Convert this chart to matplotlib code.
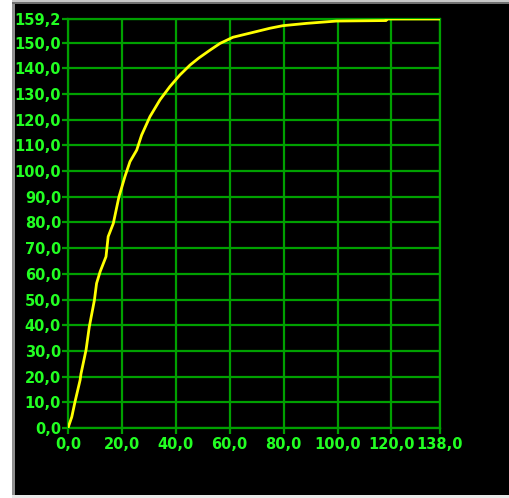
import matplotlib
matplotlib.use("Agg")
import matplotlib.pyplot as plt
from matplotlib.patches import Rectangle

# curve
x_vals = [0.0, 1.4, 2.6, 4.5, 4.8, 6.7, 7.9, 9.8, 10.6, 11.9, 14.1, 14.9, 16.8, 18.9,
          21.1, 23.0, 25.5, 27.3, 30.4, 34.1, 37.8, 41.5, 45.3, 48.5, 52.7, 56.4,
          61.2, 67.5, 74.9, 79.7, 88.5, 99.6, 118.0, 118.2, 138.0]
y_vals = [0.0, 4.3, 10.2, 18.7, 21.0, 30.4, 39.4, 49.8, 56.3, 60.8, 66.7, 74.5, 79.6, 90.0,
          97.8, 103.7, 108.2, 114.0, 121.2, 127.7, 132.9, 137.4, 141.3, 144.0, 147.1, 149.7,
          152.1, 153.7, 155.6, 156.6, 157.5, 158.4, 158.6, 159.2, 159.2]

x_ticks = [0, 20, 40, 60, 80, 100, 120, 138]
x_labels = ["0,0", "20,0", "40,0", "60,0", "80,0", "100,0", "120,0", "138,0"]
y_ticks = [0, 10, 20, 30, 40, 50, 60, 70, 80, 90, 100, 110, 120, 130, 140, 150, 159.2]
y_labels = ["0,0", "10,0", "20,0", "30,0", "40,0", "50,0", "60,0", "70,0", "80,0",
            "90,0", "100,0", "110,0", "120,0", "130,0", "140,0", "150,0", "159,2"]

grid_green = "#00a000"
text_green = "#22ff22"

fig = plt.figure(figsize=(5.09, 4.98), dpi=100, facecolor="black")

# window frame: white strip on the left, grey edges
fig.patches.append(Rectangle((0, 0), 12 / 509, 1, transform=fig.transFigure,
                             facecolor="white", edgecolor="none", zorder=0))
fig.patches.append(Rectangle((12 / 509, 0), 3 / 509, 1, transform=fig.transFigure,
                             facecolor="#909090", edgecolor="none", zorder=0))
fig.patches.append(Rectangle((12 / 509, 1 - 2 / 498), 1, 2 / 498, transform=fig.transFigure,
                             facecolor="#c8c8c8", edgecolor="none", zorder=0))
fig.patches.append(Rectangle((12 / 509, 1 - 4 / 498), 1, 2 / 498, transform=fig.transFigure,
                             facecolor="#707070", edgecolor="none", zorder=0))
fig.patches.append(Rectangle((12 / 509, 0), 1, 3 / 498, transform=fig.transFigure,
                             facecolor="#e8e8e8", edgecolor="none", zorder=0))

ax = fig.add_axes([68 / 509, 70 / 498, 372 / 509, 409 / 498])
ax.set_facecolor("black")

ax.plot(x_vals, y_vals, color="#ffff00", linewidth=2.0, zorder=3, solid_joinstyle="round")

ax.set_xlim(0, 138)
ax.set_ylim(0, 159.2)
ax.set_xticks(x_ticks)
ax.set_xticklabels(x_labels)
ax.set_yticks(y_ticks)
ax.set_yticklabels(y_labels)

ax.grid(True, color=grid_green, linewidth=1.6)
ax.set_axisbelow(True)
for s in ax.spines.values():
    s.set_color(grid_green)
    s.set_linewidth(1.6)

ax.tick_params(axis="both", colors=grid_green, length=4.5, width=1.6, direction="out")
ax.tick_params(axis="x", pad=2)
ax.tick_params(axis="y", pad=0.5)
for lab in ax.get_xticklabels() + ax.get_yticklabels():
    lab.set_color(text_green)
    lab.set_fontweight("bold")
    lab.set_fontsize(10.5)
    lab.set_family("DejaVu Sans")

fig.savefig("out.png", dpi=100, facecolor=fig.get_facecolor())
